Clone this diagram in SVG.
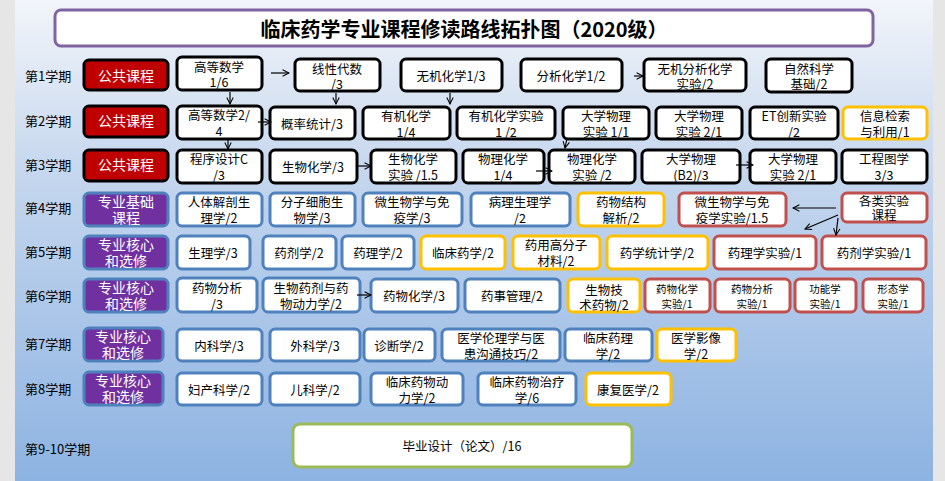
<svg xmlns="http://www.w3.org/2000/svg" width="945" height="481" viewBox="0 0 945 481">
<defs>
<linearGradient id="bg" x1="0" y1="0" x2="0" y2="1">
<stop offset="0" stop-color="#f2f5fa"/><stop offset="0.35" stop-color="#c6d7ee"/><stop offset="1" stop-color="#8db3e2"/>
</linearGradient>
<marker id="ar" viewBox="0 0 10 10" refX="9" refY="5" markerWidth="8" markerHeight="8" orient="auto" markerUnits="userSpaceOnUse"><path d="M1,1 L9,5 L1,9" fill="none" stroke="#000" stroke-width="1.3"/></marker>
</defs>
<style>
text{font-family:"Noto Sans CJK SC","Liberation Sans",sans-serif;font-size:12.5px;fill:#000;text-anchor:middle;dominant-baseline:central}
.lb{text-anchor:start;font-size:13px}
.k rect{fill:#fff;stroke:#000;stroke-width:3}
.b rect{fill:#fff;stroke:#4f81bd;stroke-width:3}
.o rect{fill:#fff;stroke:#ffc000;stroke-width:3}
.r rect{fill:#fff;stroke:#c0504d;stroke-width:3}
.pr rect{fill:#c00000;stroke:#000;stroke-width:3}
.pp rect{fill:#7030a0;stroke:#4f81bd;stroke-width:3}
.pr text,.pp text{fill:#fff;font-size:14px}
.sm text{font-size:10.5px}
#edges line{stroke:#000;stroke-width:1.2;marker-end:url(#ar)}
</style>
<rect width="945" height="481" fill="#e6e6e6"/>
<rect x="15" y="0" width="918" height="481" fill="url(#bg)"/>
<g id="title"><rect x="55" y="10" width="818" height="36" rx="6" fill="#fff" stroke="#8064a2" stroke-width="3"/><text x="464" y="28" style="font-size:20px;font-weight:bold">临床药学专业课程修读路线拓扑图（2020级）</text></g>
<g id="labels">
<text class="lb" x="25" y="75">第1学期</text><text class="lb" x="25" y="120">第2学期</text><text class="lb" x="25" y="164">第3学期</text><text class="lb" x="25" y="207">第4学期</text><text class="lb" x="25" y="251">第5学期</text><text class="lb" x="25" y="295">第6学期</text><text class="lb" x="25" y="343">第7学期</text><text class="lb" x="25" y="388">第8学期</text><text class="lb" x="25" y="448">第9-10学期</text>
</g>
<!-- row1 -->
<g id="n_pub1" class="pr"><rect x="84" y="60" width="84" height="30" rx="5"/><text x="126" y="75">公共课程</text></g>
<g id="n_gs1" class="k"><rect x="177" y="57" width="85" height="33" rx="5"/><text x="219" y="66">高等数学</text><text x="219" y="81">1/6</text></g>
<g id="n_xx" class="k"><rect x="295" y="59" width="85" height="32" rx="5"/><text x="337" y="68">线性代数</text><text x="337" y="83">/3</text></g>
<g id="n_wj" class="k"><rect x="401" y="59" width="101" height="32" rx="5"/><text x="451" y="75">无机化学1/3</text></g>
<g id="n_fx" class="k"><rect x="521" y="59" width="101" height="32" rx="5"/><text x="571" y="75">分析化学1/2</text></g>
<g id="n_wjfx" class="k"><rect x="644" y="59" width="102" height="32" rx="5"/><text x="695" y="68">无机分析化学</text><text x="695" y="83">实验/2</text></g>
<g id="n_zr" class="k"><rect x="766" y="59" width="86" height="33" rx="5"/><text x="809" y="68">自然科学</text><text x="809" y="83">基础/2</text></g>
<!-- row2 -->
<g id="n_pub2" class="pr"><rect x="84" y="106" width="84" height="31" rx="5"/><text x="126" y="120">公共课程</text></g>
<g id="n_gs2" class="k"><rect x="177" y="106" width="85" height="33" rx="5"/><text x="219" y="114">高等数学2/</text><text x="219" y="130">4</text></g>
<g id="n_gl" class="k"><rect x="270" y="107" width="85" height="32" rx="5"/><text x="312" y="123">概率统计/3</text></g>
<g id="n_yj" class="k"><rect x="363" y="107" width="87" height="32" rx="5"/><text x="406" y="115">有机化学</text><text x="406" y="131">1/4</text></g>
<g id="n_yjsy" class="k"><rect x="457" y="107" width="98" height="32" rx="5"/><text x="506" y="115">有机化学实验</text><text x="506" y="131">1 /2</text></g>
<g id="n_dw1" class="k"><rect x="563" y="107" width="86" height="32" rx="5"/><text x="606" y="115">大学物理</text><text x="606" y="131">实验 1/1</text></g>
<g id="n_dw2" class="k"><rect x="656" y="107" width="86" height="32" rx="5"/><text x="699" y="115">大学物理</text><text x="699" y="131">实验 2/1</text></g>
<g id="n_et" class="k"><rect x="750" y="107" width="88" height="32" rx="5"/><text x="794" y="115">ET创新实验</text><text x="794" y="131">/2</text></g>
<g id="n_xxjs" class="o"><rect x="843" y="107" width="84" height="32" rx="5"/><text x="885" y="115">信息检索</text><text x="885" y="131">与利用/1</text></g>
<!-- row3 -->
<g id="n_pub3" class="pr"><rect x="84" y="150" width="84" height="31" rx="5"/><text x="126" y="164">公共课程</text></g>
<g id="n_cx" class="k"><rect x="177" y="150" width="85" height="33" rx="5"/><text x="219" y="158">程序设计C</text><text x="219" y="174">/3</text></g>
<g id="n_sh" class="k"><rect x="270" y="150" width="87" height="33" rx="5"/><text x="313" y="166">生物化学/3</text></g>
<g id="n_shsy" class="k"><rect x="371" y="150" width="85" height="33" rx="5"/><text x="413" y="158">生物化学</text><text x="413" y="174">实验 /1.5</text></g>
<g id="n_wh" class="k"><rect x="463" y="150" width="81" height="33" rx="5"/><text x="503" y="158">物理化学</text><text x="503" y="174">1/4</text></g>
<g id="n_whsy" class="k"><rect x="549" y="150" width="86" height="33" rx="5"/><text x="592" y="158">物理化学</text><text x="592" y="174">实验 /2</text></g>
<g id="n_dwb2" class="k"><rect x="642" y="150" width="98" height="33" rx="5"/><text x="691" y="158">大学物理</text><text x="691" y="174">(B2)/3</text></g>
<g id="n_dw3" class="k"><rect x="750" y="150" width="86" height="33" rx="5"/><text x="793" y="158">大学物理</text><text x="793" y="174">实验 2/1</text></g>
<g id="n_gc" class="k"><rect x="842" y="150" width="85" height="33" rx="5"/><text x="884" y="158">工程图学</text><text x="884" y="174">3/3</text></g>
<!-- row4 -->
<g id="n_zyjc" class="pp"><rect x="84" y="193" width="84" height="33" rx="5"/><text x="126" y="201">专业基础</text><text x="126" y="217">课程</text></g>
<g id="n_rt" class="b"><rect x="177" y="193" width="85" height="33" rx="5"/><text x="219" y="201">人体解剖生</text><text x="219" y="217">理学/2</text></g>
<g id="n_fz" class="b"><rect x="270" y="193" width="85" height="33" rx="5"/><text x="312" y="201">分子细胞生</text><text x="312" y="217">物学/3</text></g>
<g id="n_ws" class="b"><rect x="363" y="193" width="99" height="33" rx="5"/><text x="412" y="201">微生物学与免</text><text x="412" y="217">疫学/3</text></g>
<g id="n_bl" class="b"><rect x="471" y="193" width="99" height="33" rx="5"/><text x="520" y="201">病理生理学</text><text x="520" y="217">/2</text></g>
<g id="n_ywjg" class="o"><rect x="578" y="193" width="86" height="33" rx="5"/><text x="621" y="201">药物结构</text><text x="621" y="217">解析/2</text></g>
<g id="n_wssy" class="r"><rect x="679" y="193" width="107" height="33" rx="5"/><text x="732" y="201">微生物学与免</text><text x="732" y="217">疫学实验/1.5</text></g>
<g id="n_gl_sy" class="r"><rect x="842" y="193" width="85" height="29" rx="5"/><text x="884" y="200">各类实验</text><text x="884" y="214">课程</text></g>
<!-- row5 -->
<g id="n_hx5" class="pp"><rect x="84" y="236" width="84" height="33" rx="5"/><text x="126" y="244">专业核心</text><text x="126" y="260">和选修</text></g>
<g id="n_sl" class="b"><rect x="177" y="236" width="73" height="33" rx="5"/><text x="213" y="252">生理学/3</text></g>
<g id="n_yjx" class="b"><rect x="263" y="236" width="73" height="33" rx="5"/><text x="299" y="252">药剂学/2</text></g>
<g id="n_ylx" class="b"><rect x="342" y="236" width="72" height="33" rx="5"/><text x="378" y="252">药理学/2</text></g>
<g id="n_lcyx" class="o"><rect x="421" y="236" width="84" height="33" rx="5"/><text x="463" y="252">临床药学/2</text></g>
<g id="n_gfz" class="o"><rect x="513" y="236" width="87" height="33" rx="5"/><text x="556" y="244">药用高分子</text><text x="556" y="260">材料/2</text></g>
<g id="n_tj" class="o"><rect x="607" y="236" width="101" height="33" rx="5"/><text x="657" y="252">药学统计学/2</text></g>
<g id="n_ylsy" class="r"><rect x="714" y="236" width="102" height="33" rx="5"/><text x="765" y="252">药理学实验/1</text></g>
<g id="n_yjsy2" class="r"><rect x="822" y="236" width="104" height="33" rx="5"/><text x="874" y="252">药剂学实验/1</text></g>
<!-- row6 -->
<g id="n_hx6" class="pp"><rect x="84" y="279" width="84" height="33" rx="5"/><text x="126" y="287">专业核心</text><text x="126" y="303">和选修</text></g>
<g id="n_ywfx" class="b"><rect x="177" y="278" width="80" height="34" rx="5"/><text x="217" y="287">药物分析</text><text x="217" y="303">/3</text></g>
<g id="n_swyj" class="b"><rect x="263" y="278" width="97" height="34" rx="5"/><text x="311" y="287">生物药剂与药</text><text x="311" y="303">物动力学/2</text></g>
<g id="n_ywhx" class="b"><rect x="371" y="279" width="87" height="33" rx="5"/><text x="414" y="295">药物化学/3</text></g>
<g id="n_ysgl" class="b"><rect x="465" y="279" width="95" height="33" rx="5"/><text x="512" y="295">药事管理/2</text></g>
<g id="n_swjs" class="o"><rect x="568" y="279" width="72" height="33" rx="5"/><text x="604" y="289">生物技</text><text x="604" y="304">术药物/2</text></g>
<g id="n_hxsy" class="r sm"><rect x="645" y="279" width="65" height="33" rx="5"/><text x="677" y="288">药物化学</text><text x="677" y="303">实验/1</text></g>
<g id="n_fxsy" class="r sm"><rect x="715" y="279" width="75" height="33" rx="5"/><text x="752" y="288">药物分析</text><text x="752" y="303">实验/1</text></g>
<g id="n_gnsy" class="r sm"><rect x="795" y="279" width="61" height="33" rx="5"/><text x="825" y="288">功能学</text><text x="825" y="303">实验/1</text></g>
<g id="n_xtsy" class="r sm"><rect x="863" y="279" width="60" height="33" rx="5"/><text x="893" y="288">形态学</text><text x="893" y="303">实验/1</text></g>
<!-- row7 -->
<g id="n_hx7" class="pp"><rect x="84" y="328" width="79" height="33" rx="5"/><text x="123" y="336">专业核心</text><text x="123" y="352">和选修</text></g>
<g id="n_nk" class="b"><rect x="177" y="329" width="85" height="32" rx="5"/><text x="219" y="345">内科学/3</text></g>
<g id="n_wk" class="b"><rect x="270" y="329" width="90" height="32" rx="5"/><text x="315" y="345">外科学/3</text></g>
<g id="n_zd" class="b"><rect x="364" y="329" width="71" height="32" rx="5"/><text x="399" y="345">诊断学/2</text></g>
<g id="n_ll" class="b"><rect x="442" y="329" width="118" height="32" rx="5"/><text x="501" y="337">医学伦理学与医</text><text x="501" y="353">患沟通技巧/2</text></g>
<g id="n_lcyl" class="b"><rect x="565" y="329" width="87" height="32" rx="5"/><text x="608" y="337">临床药理</text><text x="608" y="353">学/2</text></g>
<g id="n_yxyx" class="o"><rect x="657" y="329" width="79" height="32" rx="5"/><text x="696" y="337">医学影像</text><text x="696" y="353">学/2</text></g>
<!-- row8 -->
<g id="n_hx8" class="pp"><rect x="84" y="372" width="79" height="33" rx="5"/><text x="123" y="380">专业核心</text><text x="123" y="396">和选修</text></g>
<g id="n_fc" class="b"><rect x="177" y="373" width="85" height="32" rx="5"/><text x="219" y="389">妇产科学/2</text></g>
<g id="n_ek" class="b"><rect x="270" y="373" width="90" height="32" rx="5"/><text x="315" y="389">儿科学/2</text></g>
<g id="n_lcdl" class="b"><rect x="371" y="373" width="92" height="32" rx="5"/><text x="417" y="381">临床药物动</text><text x="417" y="397">力学/2</text></g>
<g id="n_lczl" class="b"><rect x="478" y="373" width="98" height="32" rx="5"/><text x="527" y="381">临床药物治疗</text><text x="527" y="397">学/6</text></g>
<g id="n_kf" class="o"><rect x="586" y="373" width="85" height="32" rx="5"/><text x="628" y="389">康复医学/2</text></g>
<!-- row9 -->
<g id="n_by"><rect x="293" y="424" width="339" height="43" rx="7" fill="#fff" stroke="#9bbb59" stroke-width="3"/><text x="462" y="445">毕业设计（论文）/16</text></g>
<g id="edges">
<line x1="271" y1="73" x2="289" y2="73"/>
<line x1="230" y1="92" x2="230" y2="104"/>
<line x1="336" y1="93" x2="336" y2="104"/>
<line x1="450" y1="93" x2="450" y2="104"/>
<line x1="634" y1="76" x2="643" y2="76"/>
<line x1="258" y1="122" x2="271" y2="122"/>
<line x1="228" y1="140" x2="228" y2="149"/>
<line x1="357" y1="166" x2="371" y2="166"/>
<line x1="536" y1="171" x2="552" y2="171"/>
<line x1="567" y1="138" x2="565" y2="148"/>
<line x1="736" y1="165" x2="753" y2="165"/>
<line x1="357" y1="295" x2="371" y2="295"/>
<line x1="836" y1="208" x2="793" y2="208"/>
<line x1="838" y1="215" x2="805" y2="229"/>
<line x1="838" y1="218" x2="836" y2="235"/>
</g>
</svg>
